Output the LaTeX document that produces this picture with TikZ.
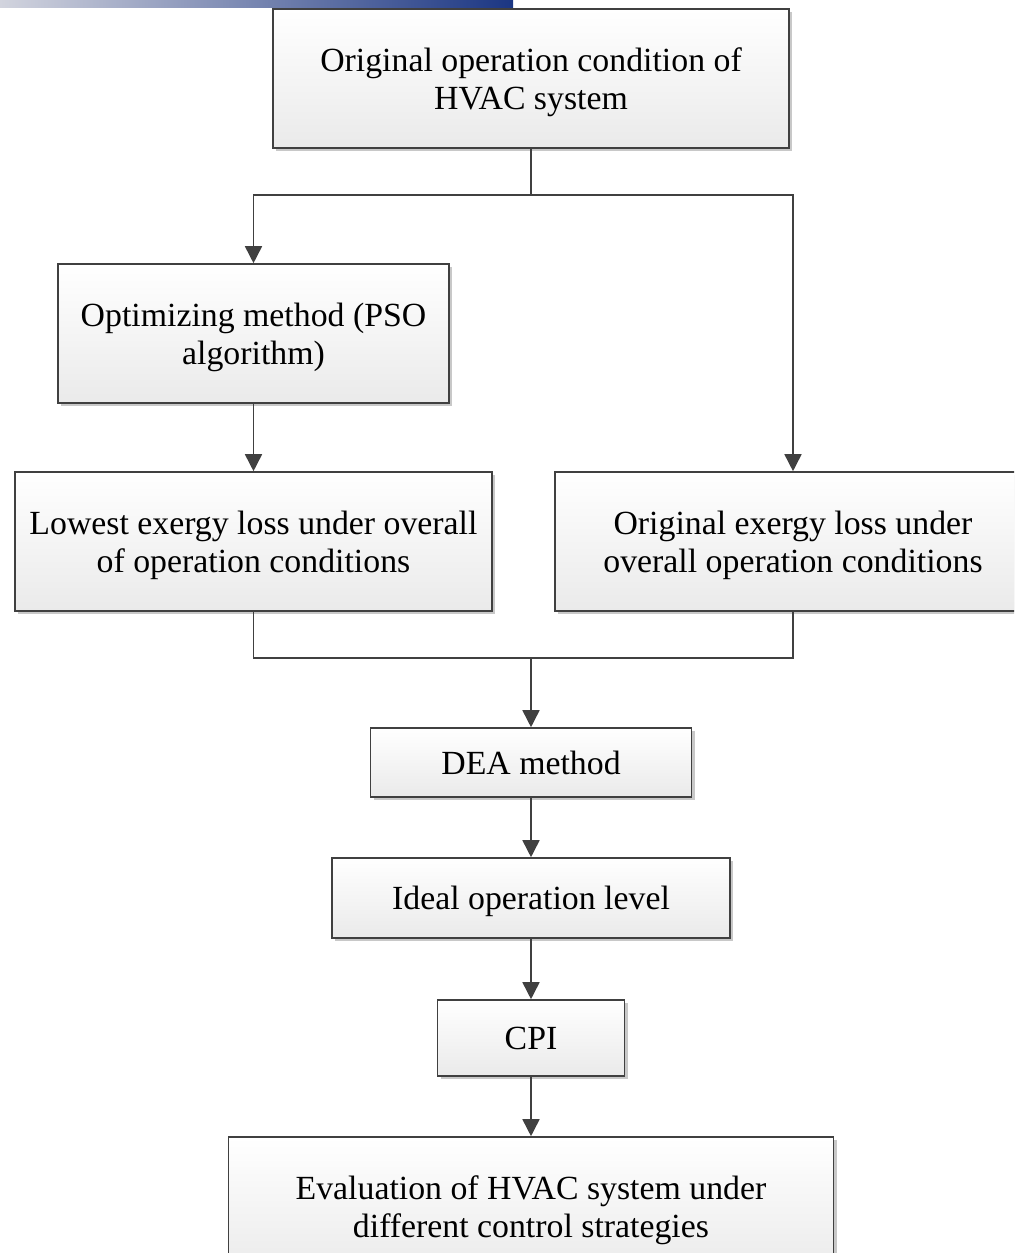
\documentclass[tikz,border=0pt]{standalone}
\usepackage{fontspec}
\setmainfont{Liberation Serif}
\usepackage{tikz}
\usetikzlibrary{arrows.meta, positioning, shadows}
\definecolor{colLine}   {HTML}{404040}
\definecolor{colShadow} {HTML}{C8C8C8}
\definecolor{colBoxTop} {HTML}{FFFFFF}
\definecolor{colBoxBot} {HTML}{EAEAEA}
\definecolor{colBarL}   {HTML}{D2D4DE}
\definecolor{colBarR}   {HTML}{1B3683}
\tikzset{
  box/.style={
    draw=colLine, line width=0.8pt,
    top color=colBoxTop, bottom color=colBoxBot,
    drop shadow={shadow xshift=1.6pt, shadow yshift=-1.6pt,
                 fill=colShadow, opacity=1},
    align=center, inner sep=3pt, minimum height=69.5pt,
    text depth=0pt, font=\fontsize{16.9}{19}\selectfont
  },
  conn/.style={line width=0.8pt, draw=colLine},
  arr/.style={
    conn, -{Triangle[length=8.5pt,width=8.5pt]}
  }
}

\begin{document}
\begin{tikzpicture}[x=0.5pt, y=-0.5pt]
  \useasboundingbox (0,0) rectangle (1014,1253);
  \clip (0,0) rectangle (1014,1253);

  %% -- title bar --
  \shade[left color=colBarL, right color=colBarR] (0,0) rectangle (513,7);

  %% -- boxes --
  \node[box, minimum width=258pt] (orig) at (531,78.5)
    {Original operation condition of\\HVAC system};
  \node[box, minimum width=195.5pt] (pso) at (253.5,333.5)
    {Optimizing method (PSO\\algorithm)};
  \node[box, minimum width=238.5pt] (lowest) at (253.5,541.5)
    {Lowest exergy loss under overall\\of operation conditions};
  \node[box, minimum width=238pt] (origloss) at (793,541.5)
    {Original exergy loss under\\overall operation conditions};
  \node[box, minimum width=160.5pt, minimum height=34.5pt] (dea) at (531,762.5)
    {DEA method};
  \node[box, minimum width=199pt, minimum height=40pt] (ideal) at (531,898)
    {Ideal operation level};
  \node[box, minimum width=93.5pt, minimum height=38pt] (cpi) at (531,1038)
    {CPI};
  \node[box, minimum width=302.5pt, minimum height=70pt] (eval) at (531,1207)
    {Evaluation of HVAC system under\\different control strategies};

  %% -- branch and join points --
  \coordinate (split) at (531,195);
  \coordinate (join)  at (531,658);

  %% -- connectors --
  \draw[conn] (orig.south) -- (split);
  \draw[arr]  (split) -| (pso.north);
  \draw[arr]  (split) -| (origloss.north);
  \draw[arr]  (pso.south) -- (lowest.north);
  \draw[conn] (lowest.south) |- (join);
  \draw[conn] (origloss.south) |- (join);
  \draw[arr]  (join) -- (dea.north);
  \draw[arr]  (dea.south) -- (ideal.north);
  \draw[arr]  (ideal.south) -- (cpi.north);
  \draw[arr]  (cpi.south) -- (eval.north);
\end{tikzpicture}
\end{document}
